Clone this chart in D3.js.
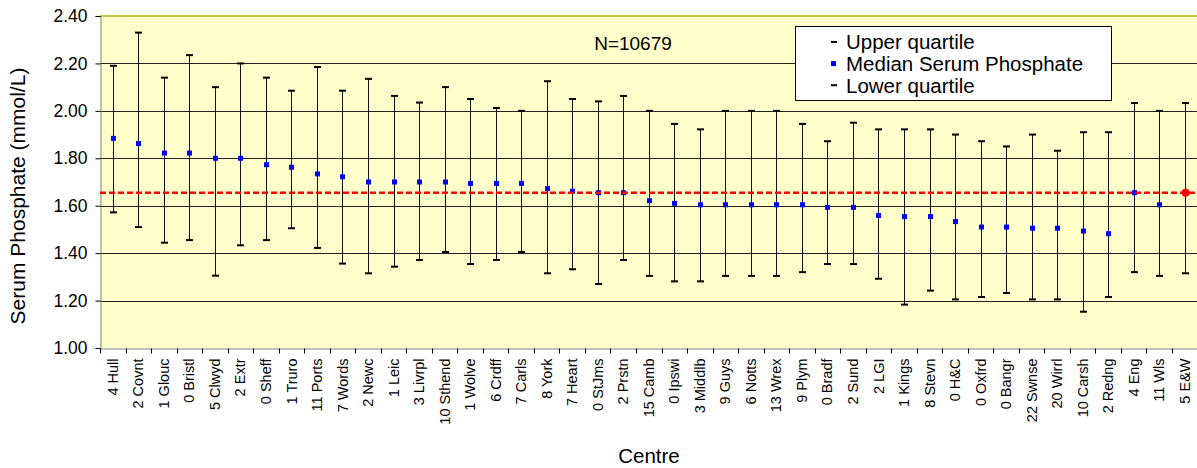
<!DOCTYPE html>
<html lang="en">
    <head>
        <meta charset="utf-8">
        <title>Serum Phosphate by Centre</title>
        <script type="text/javascript" src="https://d3js.org/d3.v7.min.js" charset="utf-8"></script>
        <style>
            body { margin: 0; background: #fff; }
            text { font-family: Arial, "Liberation Sans", sans-serif; }
        </style>
    </head>
    <body>
        <svg id="chart" width="1197" height="468"></svg>

        <script type="text/javascript">
            var centres = ["4 Hull", "2 Covnt", "1 Glouc", "0 Bristl", "5 Clwyd", "2 Extr", "0 Sheff", "1 Truro",
                "11 Ports", "7 Words", "2 Newc", "1 Leic", "3 Livrpl", "10 Sthend", "1 Wolve", "6 Crdff",
                "7 Carls", "8 York", "7 Heart", "0 StJms", "2 Prstn", "15 Camb", "0 Ipswi", "3 Middlb",
                "9 Guys", "6 Notts", "13 Wrex", "9 Plym", "0 Bradf", "2 Sund", "2 LGI", "1 Kings",
                "8 Stevn", "0 H&C", "0 Oxfrd", "0 Bangr", "22 Swnse", "20 Wirrl", "10 Carsh", "2 Redng",
                "4 Eng", "11 Wls", "5 E&W"];
            var upper = [2.19, 2.33, 2.14, 2.235, 2.10, 2.20, 2.14, 2.085,
                2.185, 2.085, 2.135, 2.063, 2.035, 2.10, 2.05, 2.012,
                2.00, 2.125, 2.05, 2.04, 2.063, 2.00, 1.945, 1.922,
                2.00, 2.00, 2.00, 1.945, 1.872, 1.95, 1.922, 1.922,
                1.922, 1.90, 1.872, 1.85, 1.90, 1.832, 1.91, 1.91,
                2.033, 2.00, 2.033];
            var median = [1.884, 1.862, 1.822, 1.822, 1.80, 1.80, 1.773, 1.762,
                1.734, 1.722, 1.70, 1.70, 1.70, 1.70, 1.694, 1.694,
                1.694, 1.672, 1.661, 1.655, 1.655, 1.621, 1.61, 1.604,
                1.604, 1.604, 1.604, 1.604, 1.593, 1.593, 1.559, 1.554,
                1.554, 1.533, 1.51, 1.51, 1.505, 1.505, 1.493, 1.482,
                1.655, 1.604, 1.655];
            var lower = [1.572, 1.51, 1.444, 1.455, 1.305, 1.433, 1.455, 1.505,
                1.422, 1.356, 1.315, 1.343, 1.371, 1.405, 1.354, 1.371,
                1.405, 1.315, 1.332, 1.27, 1.371, 1.304, 1.281, 1.281,
                1.304, 1.304, 1.304, 1.32, 1.354, 1.354, 1.292, 1.183,
                1.242, 1.205, 1.215, 1.232, 1.205, 1.205, 1.153, 1.215,
                1.32, 1.304, 1.315];
            var yTicks = [1.00, 1.20, 1.40, 1.60, 1.80, 2.00, 2.20, 2.40];
            var overall = 1.655;
            var legendItems = ["Upper quartile", "Median Serum Phosphate", "Lower quartile"];

            var rows = centres.map(function(c, i) {
                return { centre: c, upper: upper[i], median: median[i], lower: lower[i], total: c == "5 E&W" };
            });

            var plotL = 100, plotR = 1197, plotT = 16, plotB = 348;
            var svg = d3.select("#chart");

            var x = d3.scaleBand().domain(centres).range([plotL, plotR + 0.5]);
            var y = d3.scaleLinear().domain([1, 2.4]).range([plotB, plotT]);

            // plot area
            svg.append("rect")
                .attr("x", plotL).attr("y", plotT)
                .attr("width", plotR - plotL).attr("height", plotB - plotT)
                .attr("fill", "#ffffcc");

            // gridlines
            svg.append("g").selectAll("line")
                .data(yTicks.slice(1, -1))
                .enter().append("line")
                .attr("x1", plotL).attr("x2", plotR)
                .attr("y1", function(d) { return Math.round(y(d)) + 0.5; })
                .attr("y2", function(d) { return Math.round(y(d)) + 0.5; })
                .attr("stroke", "#222").attr("stroke-width", 1);

            svg.append("line")
                .attr("x1", plotL).attr("x2", plotR)
                .attr("y1", plotT).attr("y2", plotT)
                .attr("stroke", "#c8c840").attr("stroke-width", 2);

            // y axis
            var yAxis = svg.append("g")
                .attr("transform", "translate(" + (plotL + 0.5) + ",0)")
                .call(d3.axisLeft(y).tickValues(yTicks).tickFormat(d3.format(".2f")).tickSizeOuter(0).tickSize(5).tickPadding(8));
            yAxis.select(".domain").attr("stroke", "#808080");
            yAxis.selectAll(".tick line").attr("stroke", "#000");
            yAxis.selectAll("text").attr("font-size", 17.5).attr("fill", "#000");

            // x axis
            var xAxis = svg.append("g")
                .attr("transform", "translate(0," + (plotB + 0.5) + ")")
                .call(d3.axisBottom(x).tickSize(0).tickSizeOuter(0));
            xAxis.select(".domain").attr("stroke", "#808080");
            xAxis.selectAll(".tick text")
                .attr("font-size", 14.5)
                .attr("fill", "#000")
                .attr("text-anchor", "end")
                .attr("transform", "rotate(-90)")
                .attr("x", -10).attr("y", 0).attr("dy", "0.35em");
            xAxis.selectAll(".bound")
                .data(centres)
                .enter().append("line")
                .attr("class", "bound")
                .attr("x1", function(d) { return Math.round(x(d)) + 0.5; })
                .attr("x2", function(d) { return Math.round(x(d)) + 0.5; })
                .attr("y1", 0).attr("y2", 5)
                .attr("stroke", "#000");

            // N label
            svg.append("text")
                .attr("x", 633).attr("y", 50)
                .attr("text-anchor", "middle")
                .attr("font-size", 19)
                .text("N=10679");

            // legend box
            var lg = svg.append("g");
            lg.append("rect")
                .attr("x", 795.5).attr("y", 26.5).attr("width", 316).attr("height", 74)
                .attr("fill", "#fff").attr("stroke", "#000");
            legendItems.forEach(function(t, i) {
                var ly = 42 + i * 21.6;
                if (i == 1) {
                    lg.append("rect").attr("x", 831).attr("y", ly - 2.5).attr("width", 5).attr("height", 5).attr("fill", "#0000ff");
                } else {
                    lg.append("rect").attr("x", 831).attr("y", ly - 1).attr("width", 6).attr("height", 2).attr("fill", "#000");
                }
                lg.append("text")
                    .attr("x", 846).attr("y", ly).attr("dy", "0.36em")
                    .attr("font-size", 20.5)
                    .text(t);
            });

            // error bars
            var bars = svg.append("g").selectAll("g")
                .data(rows)
                .enter().append("g")
                .attr("transform", function(d) { return "translate(" + (Math.round(x(d.centre) + x.bandwidth() / 2) + 0.5) + ",0)"; });
            bars.append("line")
                .attr("y1", function(d) { return y(d.upper); })
                .attr("y2", function(d) { return y(d.lower); })
                .attr("stroke", "#111").attr("stroke-width", 1);
            bars.append("line")
                .attr("x1", -3.5).attr("x2", 3.5)
                .attr("y1", function(d) { return y(d.upper); })
                .attr("y2", function(d) { return y(d.upper); })
                .attr("stroke", "#000").attr("stroke-width", 2);
            bars.append("line")
                .attr("x1", -3.5).attr("x2", 3.5)
                .attr("y1", function(d) { return y(d.lower); })
                .attr("y2", function(d) { return y(d.lower); })
                .attr("stroke", "#000").attr("stroke-width", 2);

            // overall median reference line
            svg.append("line")
                .attr("x1", plotL).attr("x2", plotR)
                .attr("y1", y(overall)).attr("y2", y(overall))
                .attr("stroke", "#ff0000").attr("stroke-width", 2.5)
                .attr("stroke-dasharray", "6,3");

            bars.filter(function(d) { return !d.total; })
                .append("rect")
                .attr("x", -2.5).attr("width", 5).attr("height", 5)
                .attr("y", function(d) { return y(d.median) - 2.5; })
                .attr("fill", "#0000ff");
            bars.filter(function(d) { return d.total; })
                .append("circle")
                .attr("r", 4)
                .attr("cy", function(d) { return y(d.median); })
                .attr("fill", "#ff0000");

            // axis titles
            svg.append("text")
                .attr("transform", "translate(25,196) rotate(-90)")
                .attr("text-anchor", "middle")
                .attr("font-size", 21)
                .text("Serum Phosphate (mmol/L)");
            svg.append("text")
                .attr("x", 649).attr("y", 463)
                .attr("text-anchor", "middle")
                .attr("font-size", 20.5)
                .text("Centre");
        </script>
    </body>
</html>
